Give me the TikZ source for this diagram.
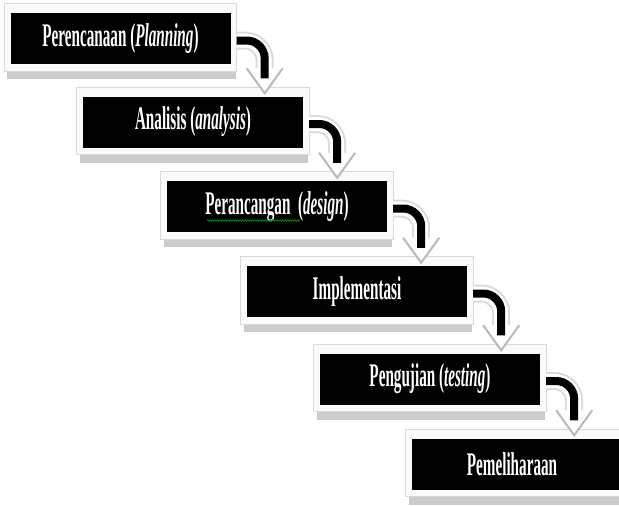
\documentclass[tikz,border=0pt]{standalone}
\usepackage{fontspec}
\setmainfont{Liberation Serif}[FakeStretch=0.46]
\usetikzlibrary{calc,decorations.pathmorphing}
\pgfdeclarelayer{bg}
\pgfsetlayers{bg,main}

\begin{document}
\begin{tikzpicture}[x=1pt,y=-1pt,
  stepbox/.style={fill=black, text=white, inner sep=0pt,
    minimum width=220pt, minimum height=51pt,
    font=\fontsize{33}{35}\selectfont\bfseries},
  boxshadow/.style={fill=gray!40},
  boxframe/.style={fill=gray!4, draw=gray!30, line width=1pt},
  shaftedge/.style={line width=18pt, draw=gray!28, rounded corners=20pt},
  shaftfill/.style={line width=14pt, draw=white, rounded corners=20pt},
  shaftcore/.style={line width=8pt, draw=black, rounded corners=18pt},
  headfill/.style={fill=white},
  headedge/.style={draw=gray!55, line width=2pt, line join=miter},
  squiggle/.style={draw=green!55!black, line width=0.7pt,
    decorate, decoration={snake, amplitude=0.8pt, segment length=2.5pt}}
]
\useasboundingbox (0,0) rectangle (619,506);

% the six stages of the waterfall
\node[stepbox] (p1) at (120.5,38.5) {Perencanaan (\textit{Planning})};
\node[stepbox] (p2) at (193,122) {Analisis (\textit{analysis})};
\node[stepbox] (p3) at (277,206.5) {Perancangan~~(\textit{design})};
\node[stepbox] (p4) at (357,291.5) {Implementasi};
\node[stepbox] (p5) at (430,379) {Pengujian (\textit{testing})};
\node[stepbox] (p6) at (522,464) {\hspace*{-20pt}Pemeliharaan};

% spell-check underline below the first word of stage three
\draw[squiggle] ($(p3.center)+(-70,14)$) -- ($(p3.center)+(23,14)$);

% white page, then white frames with a drop shadow behind each stage
\begin{pgfonlayer}{bg}
  \fill[white] (0,0) rectangle (619,506);
  \foreach \i in {1,...,6} {
    \fill[boxshadow] ($(p\i.north west)+(-3,0)$) rectangle ($(p\i.south east)+(5,15)$);
    \filldraw[boxframe] ($(p\i.north west)+(-6,-9)$) rectangle ($(p\i.south east)+(6,7)$);
  }
\end{pgfonlayer}

% curved arrows from each stage down to the next one
\foreach \a/\b in {p1/p2,p2/p3,p3/p4,p4/p5,p5/p6} {
  \path (\a.east) ++(34,0) coordinate (col);
  \coordinate (tip) at ($(col |- \b.north)+(0,-3)$);
  \coordinate (htop) at ($(tip)+(0,-25)$);
  \coordinate (s) at ($(\a.east)+(6,2)$);
  \draw[shaftedge] (s) -- (s -| tip) -- (htop);
  \draw[shaftfill] (s) -- (s -| tip) -- (htop);
  \fill[headfill] ($(htop)+(-18,0)$) -- (tip) -- ($(htop)+(18,0)$) -- cycle;
  \draw[headedge] ($(htop)+(-18,0)$) -- (tip) -- ($(htop)+(18,0)$);
  \draw[shaftcore] (s) -- (s -| tip) -- ($(htop)+(0,10)$);
}
\end{tikzpicture}
\end{document}
